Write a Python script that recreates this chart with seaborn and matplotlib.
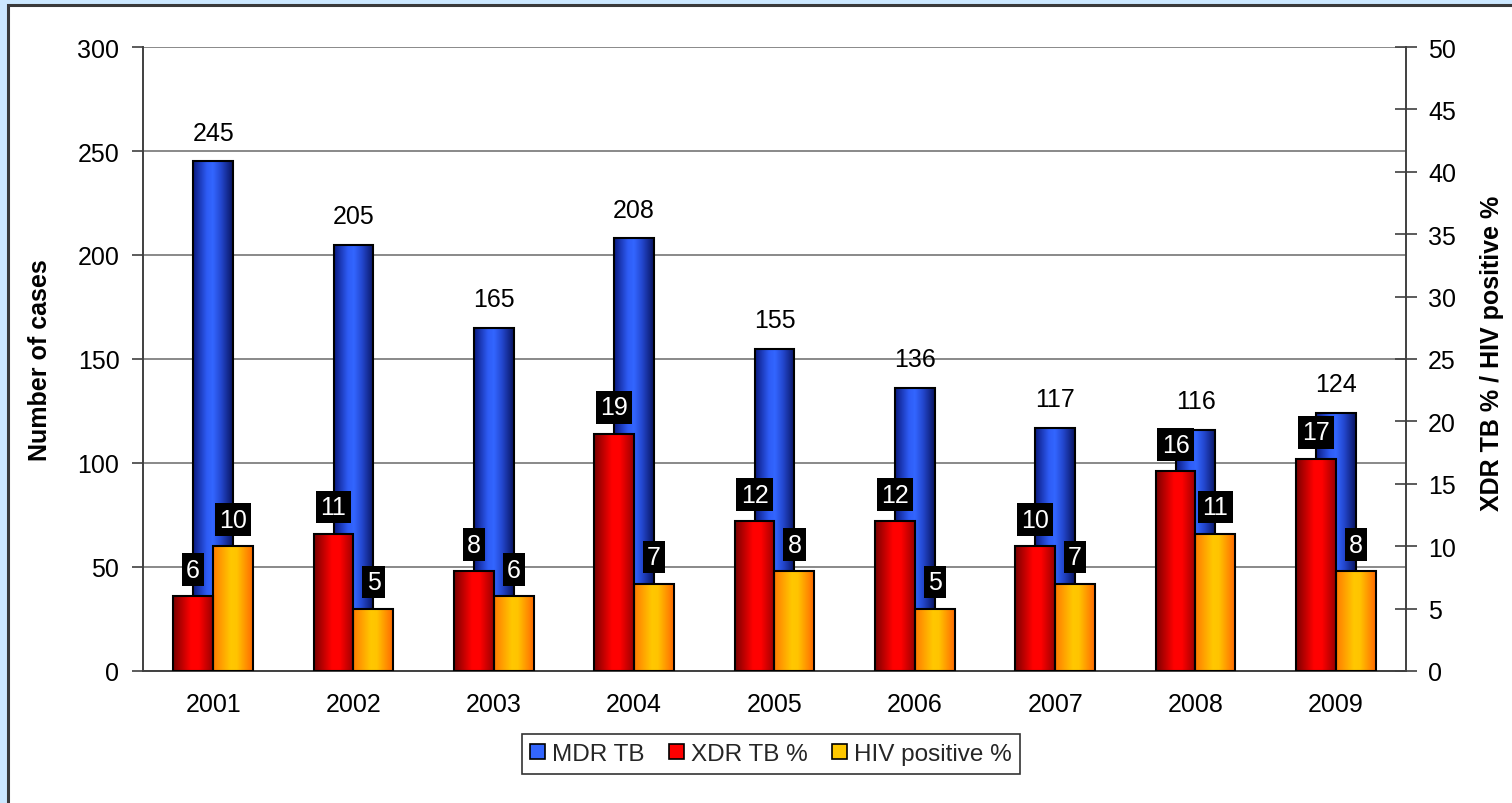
import numpy as np
import pandas as pd
import matplotlib
matplotlib.use("Agg")
import matplotlib.pyplot as plt
from matplotlib.colors import LinearSegmentedColormap
from matplotlib.patches import Patch, Rectangle
import seaborn as sns

# ---- data ----
years = ["2001", "2002", "2003", "2004", "2005", "2006", "2007", "2008", "2009"]
mdr_tb = [245, 205, 165, 208, 155, 136, 117, 116, 124]
xdr_tb_pct = [6, 11, 8, 19, 12, 12, 10, 16, 17]
hiv_pos_pct = [10, 5, 6, 7, 8, 5, 7, 11, 8]
series_names = ["MDR TB", "XDR TB %", "HIV positive %"]
left_ticks = [0, 50, 100, 150, 200, 250, 300]
right_ticks = [0, 5, 10, 15, 20, 25, 30, 35, 40, 45, 50]

sns.set_theme(style="white")
plt.rcParams["font.family"] = ["Liberation Sans", "DejaVu Sans"]

FS = 18
fig = plt.figure(figsize=(15.12, 8.04), dpi=100)
fig.patch.set_facecolor("#CCE8FF")
fig.add_artist(Rectangle((8 / 1512, -0.01), 1.02, 1 - 5.5 / 804 + 0.01,
                         transform=fig.transFigure, facecolor="white",
                         edgecolor="#3A3A3A", linewidth=2.2, zorder=0))

ax = fig.add_axes([143 / 1512, 1 - 672 / 804, (1406 - 143) / 1512, (672 - 48) / 804])
ax.set_facecolor("none")
ax2 = ax.twinx()

blue_cmap = LinearSegmentedColormap.from_list(
    "b", [(0, "#0A1A80"), (0.35, "#2E5CF5"), (0.5, "#3366FF"), (0.7, "#2448D0"), (1, "#081460")])
red_cmap = LinearSegmentedColormap.from_list(
    "r", [(0, "#7A0000"), (0.45, "#FF0000"), (0.65, "#FF0000"), (1, "#9A0000")])
yel_cmap = LinearSegmentedColormap.from_list(
    "y", [(0, "#FF7A00"), (0.45, "#FFC800"), (0.6, "#FFC400"), (1, "#FF6A00")])

# MDR TB bars (left axis)
df_mdr = pd.DataFrame({"year": years, "value": mdr_tb})
sns.barplot(data=df_mdr, x="year", y="value", ax=ax, width=0.285, color="#3366FF",
            edgecolor="black", linewidth=1.5, zorder=2)

# XDR / HIV bars (right axis)
df_pct = pd.DataFrame({
    "year": years * 2,
    "value": xdr_tb_pct + hiv_pos_pct,
    "series": [series_names[1]] * len(years) + [series_names[2]] * len(years),
})
sns.barplot(data=df_pct, x="year", y="value", hue="series", ax=ax2, width=0.57, dodge=True,
            palette=["#FF0000", "#FFC800"], edgecolor="black", linewidth=1.5,
            legend=False, zorder=2)


def gradient_fill(axis, patches, cmaps):
    grad = np.linspace(0, 1, 256).reshape(1, -1)
    for p, cm in zip(patches, cmaps):
        x0, y0 = p.get_x(), p.get_y()
        w, h = p.get_width(), p.get_height()
        axis.imshow(grad, extent=[x0, x0 + w, y0, y0 + h], origin="lower", cmap=cm,
                    aspect="auto", interpolation="bilinear", zorder=2.5)
        p.set_facecolor("none")
        p.set_zorder(3)


mdr_patches = list(ax.patches)
gradient_fill(ax, mdr_patches, [blue_cmap] * len(mdr_patches))
pct_patches = list(ax2.patches)
n = len(years)
gradient_fill(ax2, pct_patches, [red_cmap] * n + [yel_cmap] * n)

# labels
for p, v in zip(mdr_patches, mdr_tb):
    ax.annotate(str(v), (p.get_x() + p.get_width() / 2, p.get_height()),
                xytext=(0, 12), textcoords="offset points", ha="center", va="bottom",
                fontsize=FS, color="black", zorder=5)
for p, v in zip(pct_patches, xdr_tb_pct + hiv_pos_pct):
    ax2.annotate(str(v), (p.get_x() + p.get_width() / 2, p.get_height()),
                 xytext=(0, 10.5), textcoords="offset points", ha="center", va="bottom",
                 fontsize=FS, color="white", zorder=6,
                 bbox=dict(boxstyle="square,pad=0.17", facecolor="black", edgecolor="none"))

# axes
for a in (ax, ax2):
    a.set_xlim(-0.5, len(years) - 0.5)
    a.set_xlabel("")
ax.set_ylim(0, 300)
ax2.set_ylim(0, 50)
ax.set_yticks(left_ticks)
ax2.set_yticks(right_ticks)
ax.set_xticks(range(len(years)))
ax.set_xticklabels(years)
ax.set_xticks(np.arange(-0.5, len(years), 1.0), minor=True)
ax.tick_params(axis="x", which="major", length=0, pad=15, labelsize=FS, colors="black")
ax.tick_params(axis="x", which="minor", length=7, width=1.2, color="#404040", direction="out")
ax.tick_params(axis="y", length=8, width=1.2, color="#404040", direction="out", pad=9,
               labelsize=FS, labelcolor="black", left=True)
ax2.tick_params(axis="y", length=16, width=1.2, color="#404040", direction="inout", pad=8,
                labelsize=FS, labelcolor="black", right=True)
ax2.tick_params(axis="x", bottom=False, labelbottom=False)

ax.grid(axis="y", color="#808080", linewidth=1.3, zorder=0)
ax.set_axisbelow(True)
ax2.grid(False)

for s in ("top", "right"):
    ax.spines[s].set_visible(False)
for s in ("left", "bottom"):
    ax.spines[s].set_color("#404040")
    ax.spines[s].set_linewidth(1.4)
for s in ("top", "left", "bottom"):
    ax2.spines[s].set_visible(False)
ax2.spines["right"].set_color("#404040")
ax2.spines["right"].set_linewidth(1.4)

ax.set_ylabel("Number of cases", fontsize=18, fontweight="bold", color="black")
ax.yaxis.set_label_coords(-0.072, 0.5)
ax2.set_ylabel("XDR TB % / HIV positive %", fontsize=18, fontweight="bold", color="black",
               rotation=90)
ax2.yaxis.set_label_coords(1.0586, 0.51)

handles = [Patch(facecolor=c, edgecolor="black", linewidth=1.2)
           for c in ("#3366FF", "#FF0000", "#FFC800")]
leg = fig.legend(handles, series_names, loc="center", bbox_to_anchor=(771 / 1512, 1 - 755 / 804),
                 ncol=3, fontsize=17.5, frameon=True, fancybox=False, edgecolor="black",
                 handlelength=0.6, handleheight=0.6, handletextpad=0.3, columnspacing=1.0,
                 borderpad=0.35, borderaxespad=0)
leg.get_frame().set_linewidth(1.2)
leg.get_frame().set_facecolor("white")

fig.savefig("out.png", dpi=100, facecolor=fig.get_facecolor())
